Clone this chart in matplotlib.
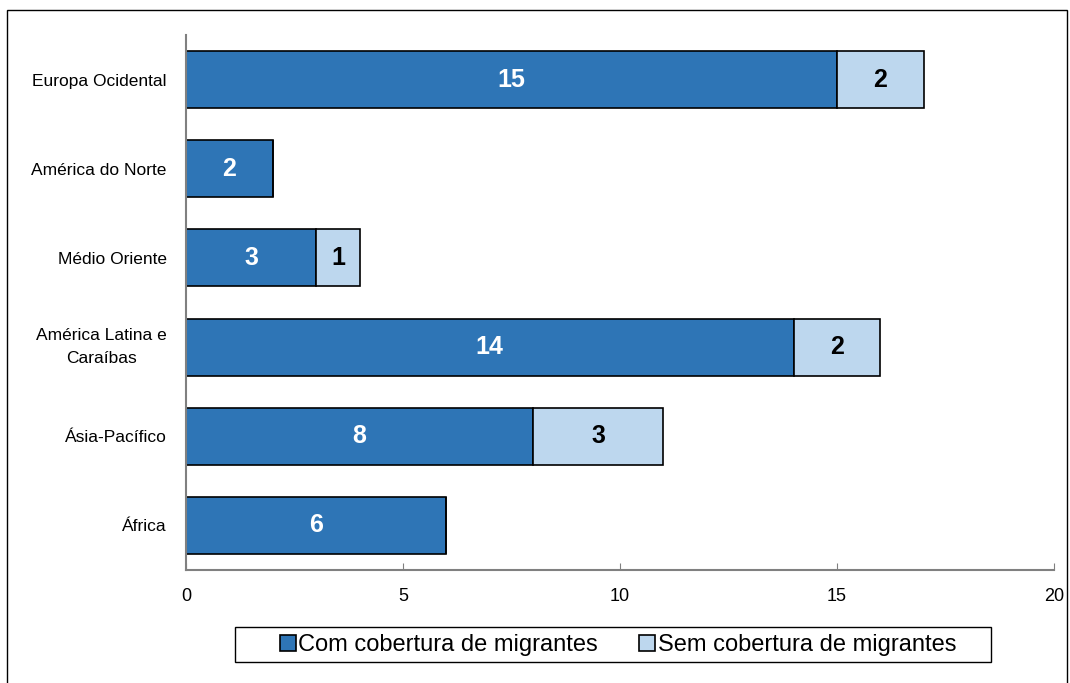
import matplotlib.pyplot as plt
from matplotlib.patches import Rectangle

plt.rcParams['font.family'] = ['Liberation Sans', 'DejaVu Sans']

regions = ['Europa Ocidental', 'América do Norte', 'Médio Oriente',
           'América Latina e\nCaraíbas', 'Ásia-Pacífico', 'África']
com_cobertura = [15, 2, 3, 14, 8, 6]
sem_cobertura = [2, 0, 1, 2, 3, 0]

dark_blue = '#2e75b6'
light_blue = '#bdd7ee'

W, H = 1070, 683
fig = plt.figure(figsize=(W / 100, H / 100), dpi=100)
ax = fig.add_axes([186 / W, 1 - 570 / H, (1054 - 186) / W, (570 - 35) / H])

# outer frame around the whole chart
fig.patches.append(Rectangle((7 / W, -0.01), (1067 - 7) / W, 1.0 - 10 / H + 0.01,
                             transform=fig.transFigure, fill=False,
                             edgecolor='black', linewidth=1.0))

ypos = list(range(len(regions)))
h = 0.64
ax.barh(ypos, com_cobertura, height=h, color=dark_blue, edgecolor='black',
        linewidth=1.2, label='Com cobertura de migrantes')
ax.barh(ypos, sem_cobertura, left=com_cobertura, height=h, color=light_blue,
        edgecolor='black', linewidth=1.2, label='Sem cobertura de migrantes')

for y, c, s in zip(ypos, com_cobertura, sem_cobertura):
    ax.text(c / 2, y, str(c), ha='center', va='center', color='white',
            fontsize=18, fontweight='bold')
    if s:
        ax.text(c + s / 2, y, str(s), ha='center', va='center', color='black',
                fontsize=18, fontweight='bold')

ax.set_xlim(0, 20)
ax.set_ylim(len(regions) - 0.5, -0.5)
ax.set_xticks([0, 5, 10, 15, 20])
ax.set_yticks(ypos)
ax.set_yticklabels(regions, fontsize=12.5)
for lbl in ax.get_yticklabels():
    lbl.set_multialignment('center')
    lbl.set_linespacing(1.6)
    if '\n' in lbl.get_text():
        lbl.set_verticalalignment('center')
ax.tick_params(axis='y', length=0, pad=14)
ax.tick_params(axis='x', direction='in', length=5, color='#808080', labelsize=13, pad=13)

for side in ['top', 'right']:
    ax.spines[side].set_visible(False)
for side in ['left', 'bottom']:
    ax.spines[side].set_color('#808080')
    ax.spines[side].set_linewidth(1.5)

# legend without its own frame, boxed by a rectangle below
leg = fig.legend(loc='center', bbox_to_anchor=(618 / W, 1 - 645 / H), ncol=2, fontsize=17,
                 frameon=False, handlelength=0.68, handleheight=0.68,
                 handletextpad=0.1, columnspacing=1.75, borderpad=0)
fig.patches.append(Rectangle((235 / W, 1 - 662 / H), (991 - 235) / W, 35 / H,
                             transform=fig.transFigure, fill=False,
                             edgecolor='black', linewidth=1.0))

fig.savefig('out.png', dpi=100)
